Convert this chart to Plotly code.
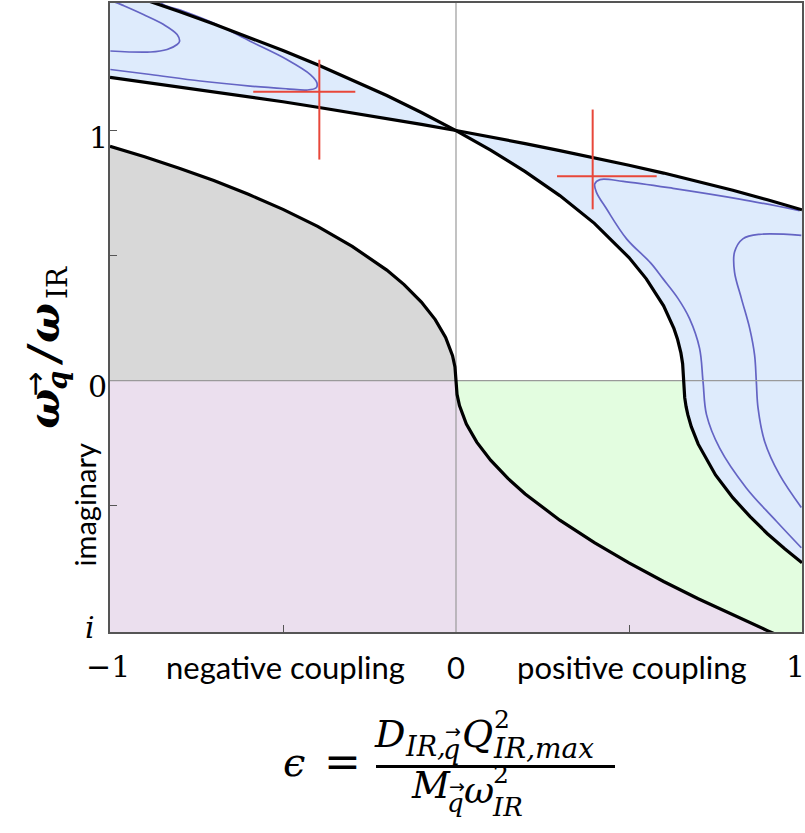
import plotly.graph_objects as go

# ---------------- data ----------------
# boundary "B": the flatter line through (0, 1)
B_x = [-1.0, -0.9, -0.8, -0.7, -0.6, -0.5, -0.4, -0.3, -0.2, -0.1, 0.0,
       0.1, 0.2, 0.3, 0.4, 0.5, 0.6, 0.7, 0.8, 0.9, 1.0]
B_y = [1.213, 1.194, 1.175, 1.156, 1.135, 1.115, 1.093, 1.071, 1.048, 1.025, 1.0,
       0.975, 0.948, 0.920, 0.892, 0.861, 0.830, 0.796, 0.761, 0.723, 0.683]

# boundary "A": the steep curve through (0, 1), continues into imaginary part
A_x = [-1.0, -0.9, -0.8, -0.7, -0.6, -0.5, -0.4, -0.3, -0.2, -0.1, 0.0,
       0.1, 0.2, 0.3, 0.4, 0.5, 0.55, 0.6, 0.63, 0.64, 0.65, 0.655, 0.658,
       0.661, 0.665, 0.67, 0.68, 0.69, 0.7, 0.75, 0.8, 0.85, 0.9, 0.95, 1.0]
A_y = [1.571, 1.524, 1.476, 1.426, 1.374, 1.320, 1.263, 1.203, 1.140, 1.072, 1.0,
       0.922, 0.836, 0.740, 0.629, 0.492, 0.407, 0.299, 0.208, 0.167, 0.111, 0.068, 0.0,
       -0.068, -0.104, -0.136, -0.184, -0.222, -0.254, -0.377, -0.468, -0.544, -0.612, -0.672, -0.728]

# boundary "C": lower curve from (-1, 0.94) through (0, 0) into the imaginary part
C_x = [-1.0, -0.9, -0.8, -0.7, -0.6, -0.5, -0.4, -0.3, -0.2, -0.15, -0.1, -0.06, -0.03, -0.01, -0.003, 0.0,
       0.003, 0.01, 0.03, 0.06, 0.1, 0.15, 0.2, 0.3, 0.4, 0.5, 0.6, 0.7, 0.8, 0.9, 0.95, 1.0]
C_y = [0.937, 0.895, 0.849, 0.800, 0.745, 0.685, 0.617, 0.537, 0.442, 0.384, 0.314, 0.244, 0.173, 0.100, 0.055, 0.0,
       -0.055, -0.100, -0.174, -0.246, -0.318, -0.391, -0.453, -0.558, -0.648, -0.729, -0.803, -0.872, -0.937, -0.9995, -1.030, -1.059]

# contour lines inside the instability regions
L_in_x = [-1.02, -0.979, -0.960, -0.902, -0.845, -0.806, -0.799, -0.806, -0.835, -0.883, -0.999]
L_in_y = [1.53, 1.510, 1.499, 1.463, 1.424, 1.384, 1.357, 1.344, 1.324, 1.314, 1.318]

L_out_x = [-0.999, -0.883, -0.739, -0.595, -0.489, -0.431, -0.404, -0.402, -0.421, -0.489, -0.595, -0.691, -0.787, -0.845, -0.86]
L_out_y = [1.244, 1.224, 1.198, 1.178, 1.167, 1.162, 1.171, 1.191, 1.224, 1.284, 1.357, 1.424, 1.477, 1.503, 1.52]

R_out_x = [0.993, 0.820, 0.627, 0.483, 0.416, 0.401, 0.406, 0.435, 0.493, 0.563, 0.598, 0.641, 0.675, 0.704, 0.714, 0.724, 0.762, 0.839, 0.926, 0.998]
R_out_y = [0.680, 0.726, 0.769, 0.797, 0.804, 0.786, 0.753, 0.687, 0.567, 0.470, 0.408, 0.330, 0.248, 0.129, -0.004, -0.136, -0.270, -0.429, -0.562, -0.668]

R_in_x = [0.998, 0.877, 0.829, 0.805, 0.805, 0.825, 0.849, 0.863, 0.868, 0.873, 0.892, 0.935, 0.998]
R_in_y = [0.581, 0.585, 0.567, 0.514, 0.434, 0.328, 0.208, 0.102, -0.004, -0.110, -0.243, -0.376, -0.507]

# red markers (cross hairs)
cross1_h_x = [-0.586, -0.291]; cross1_h_y = [1.155, 1.155]
cross1_v_x = [-0.395, -0.395]; cross1_v_y = [1.283, 0.884]
cross2_h_x = [0.292, 0.580]; cross2_h_y = [0.817, 0.817]
cross2_v_x = [0.395, 0.395]; cross2_v_y = [1.084, 0.685]

X_RANGE = [-1.0, 1.0]
Y_RANGE = [-1.005, 1.51]

# ---------------- figure ----------------
W, H = 805, 833
ML, MR, MT, MB = 110, 3, 1, 201
PW, PH = W - ML - MR, H - MT - MB

BLUE = "#deebfc"
GRAY = "#d8d8d8"
PURPLE = "#ebdfee"
GREEN = "#e3fde0"
CONT = "#6464c4"
RED = "#e8473a"

fig = go.Figure()


def poly(xs, ys, color):
    fig.add_trace(go.Scatter(x=xs, y=ys, mode="lines", fill="toself", fillcolor=color,
                             line=dict(width=0, color=color), hoverinfo="skip", showlegend=False))


def line(xs, ys, color, width, shape="linear"):
    fig.add_trace(go.Scatter(x=xs, y=ys, mode="lines",
                             line=dict(color=color, width=width, shape=shape, smoothing=1.0),
                             hoverinfo="skip", showlegend=False))


i0 = C_x.index(0.0)
poly(C_x[:i0 + 1] + [-1.0], C_y[:i0 + 1] + [0.0], GRAY)
poly([-1.05, 0.0] + C_x[i0:] + [1.05, 1.05, -1.05],
     [0.0, 0.0] + C_y[i0:] + [C_y[-1], -1.3, -1.3], PURPLE)
ia0 = A_x.index(0.658)
poly([0.0] + A_x[ia0:] + [1.05, 1.05] + C_x[i0:][::-1],
     [0.0] + A_y[ia0:] + [A_y[-1], C_y[-1]] + C_y[i0:][::-1], GREEN)
ib0 = B_x.index(0.0)
ia_zero = A_x.index(0.0)
poly(B_x[ib0:] + [1.05, 1.05] + A_x[ia_zero:][::-1],
     B_y[ib0:] + [B_y[-1], A_y[-1]] + A_y[ia_zero:][::-1], BLUE)
poly(B_x[:ib0 + 1] + A_x[:ia_zero + 1][::-1] + [-1.05],
     B_y[:ib0 + 1] + A_y[:ia_zero + 1][::-1] + [1.6], BLUE)

# contour lines
line(L_in_x, L_in_y, CONT, 1.7, "spline")
line(L_out_x, L_out_y, CONT, 1.7, "spline")
line(R_out_x, R_out_y, CONT, 1.7, "spline")
line(R_in_x, R_in_y, CONT, 1.7, "spline")

# zero lines
line([0, 0], [Y_RANGE[0], Y_RANGE[1]], "#9a9a9a", 1.2)
line([X_RANGE[0], X_RANGE[1]], [0, 0], "#9a9a9a", 1.2)

# black boundaries
line(B_x, B_y, "black", 3.2)
line(A_x, A_y, "black", 3.2)
line(C_x, C_y, "black", 3.2)

# red crosses
line(cross1_h_x, cross1_h_y, RED, 2)
line(cross1_v_x, cross1_v_y, RED, 2)
line(cross2_h_x, cross2_h_y, RED, 2)
line(cross2_v_x, cross2_v_y, RED, 2)

fig.update_layout(
    width=W, height=H, margin=dict(l=ML, r=MR, t=MT, b=MB),
    plot_bgcolor="white", paper_bgcolor="white", showlegend=False,
    xaxis=dict(range=X_RANGE, showgrid=False, zeroline=False, showline=True, mirror=True,
               linecolor="#555", linewidth=1.5, ticks="inside", tickvals=[-0.5, 0.5],
               ticklen=7, tickcolor="#555", tickwidth=1.2, showticklabels=False, fixedrange=True),
    yaxis=dict(range=Y_RANGE, showgrid=False, zeroline=False, showline=True, mirror=True,
               linecolor="#555", linewidth=1.5, ticks="inside", tickvals=[-0.5, 0.5, 1.0],
               ticklen=7, tickcolor="#555", tickwidth=1.2, showticklabels=False, fixedrange=True),
)

# ---------------- text ----------------
def px2paper(px, py):
    return (px - ML) / PW, (H - MB - py) / PH


def ann(text, px, py, size, family="DejaVu Serif", xanchor="center", yanchor="middle",
        angle=0, color="black"):
    x, y = px2paper(px, py)
    fig.add_annotation(text=text, x=x, y=y, xref="paper", yref="paper", showarrow=False,
                       xanchor=xanchor, yanchor=yanchor, textangle=angle, borderpad=0,
                       font=dict(size=size, family=family, color=color))


SERIF = "DejaVu Serif"
SANS = "Lato"

# y tick labels
ann("1", 98, 136, 30, SERIF)
ann("0", 97, 386, 30, SERIF)
ann("<i>i</i>", 90, 627, 30, SERIF)
ann("imaginary", 84, 505, 29, SANS, angle=-90)

# y title  (omega_q-vec / omega_IR), pieces rotated
ann("<b><i>ω</i></b>", 45, 408, 42, SERIF, angle=-90)
ann("<b><i>q</i></b>", 58, 380, 27, SERIF, angle=-90)
ann("→", 35, 384, 30, "DejaVu Sans", angle=-90)
ann("<b><i>/</i></b>", 44, 354, 42, SERIF, angle=-90)
ann("<b><i>ω</i></b>", 45, 322, 42, SERIF, angle=-90)
ann("IR", 57, 282, 28, SERIF, angle=-90)

# x tick labels
ann("−1", 108, 667, 30, SERIF)
ann("0", 456, 667, 31, SANS)
ann("1", 795, 667, 30, SERIF)
ann("negative coupling", 285, 667, 31, SANS)
ann("positive coupling", 632, 667, 31, SANS)

# x title formula
ann("<i>ϵ</i>", 294, 762, 40, SERIF)
ann("=", 342, 762, 44, SERIF)
fig.add_shape(type="line", xref="paper", yref="paper",
              x0=px2paper(376, 0)[0], x1=px2paper(615, 0)[0],
              y0=px2paper(0, 767)[1], y1=px2paper(0, 767)[1],
              line=dict(color="black", width=3))
# numerator
ann("<i>D</i>", 373, 734, 38, SERIF, xanchor="left")
ann("<i>IR,</i>", 404, 747, 27, SERIF, xanchor="left")
ann("<i>q</i>", 451, 750, 27, SERIF, xanchor="center")
ann("→", 453, 731, 19, "DejaVu Sans", xanchor="center")
ann("<i>Q</i>", 461, 734, 38, SERIF, xanchor="left")
ann("2", 493, 720, 25, SERIF, xanchor="left")
ann("<i>IR,max</i>", 492, 749, 28, SERIF, xanchor="left")
# denominator
ann("<i>M</i>", 410, 786, 37, SERIF, xanchor="left")
ann("<i>q</i>", 455, 804, 26, SERIF, xanchor="center")
ann("→", 457, 786, 19, "DejaVu Sans", xanchor="center")
ann("<i>ω</i>", 463, 791, 37, SERIF, xanchor="left")
ann("2", 492, 775, 25, SERIF, xanchor="left")
ann("<i>IR</i>", 491, 808, 26, SERIF, xanchor="left")

fig.write_html("out.html")
